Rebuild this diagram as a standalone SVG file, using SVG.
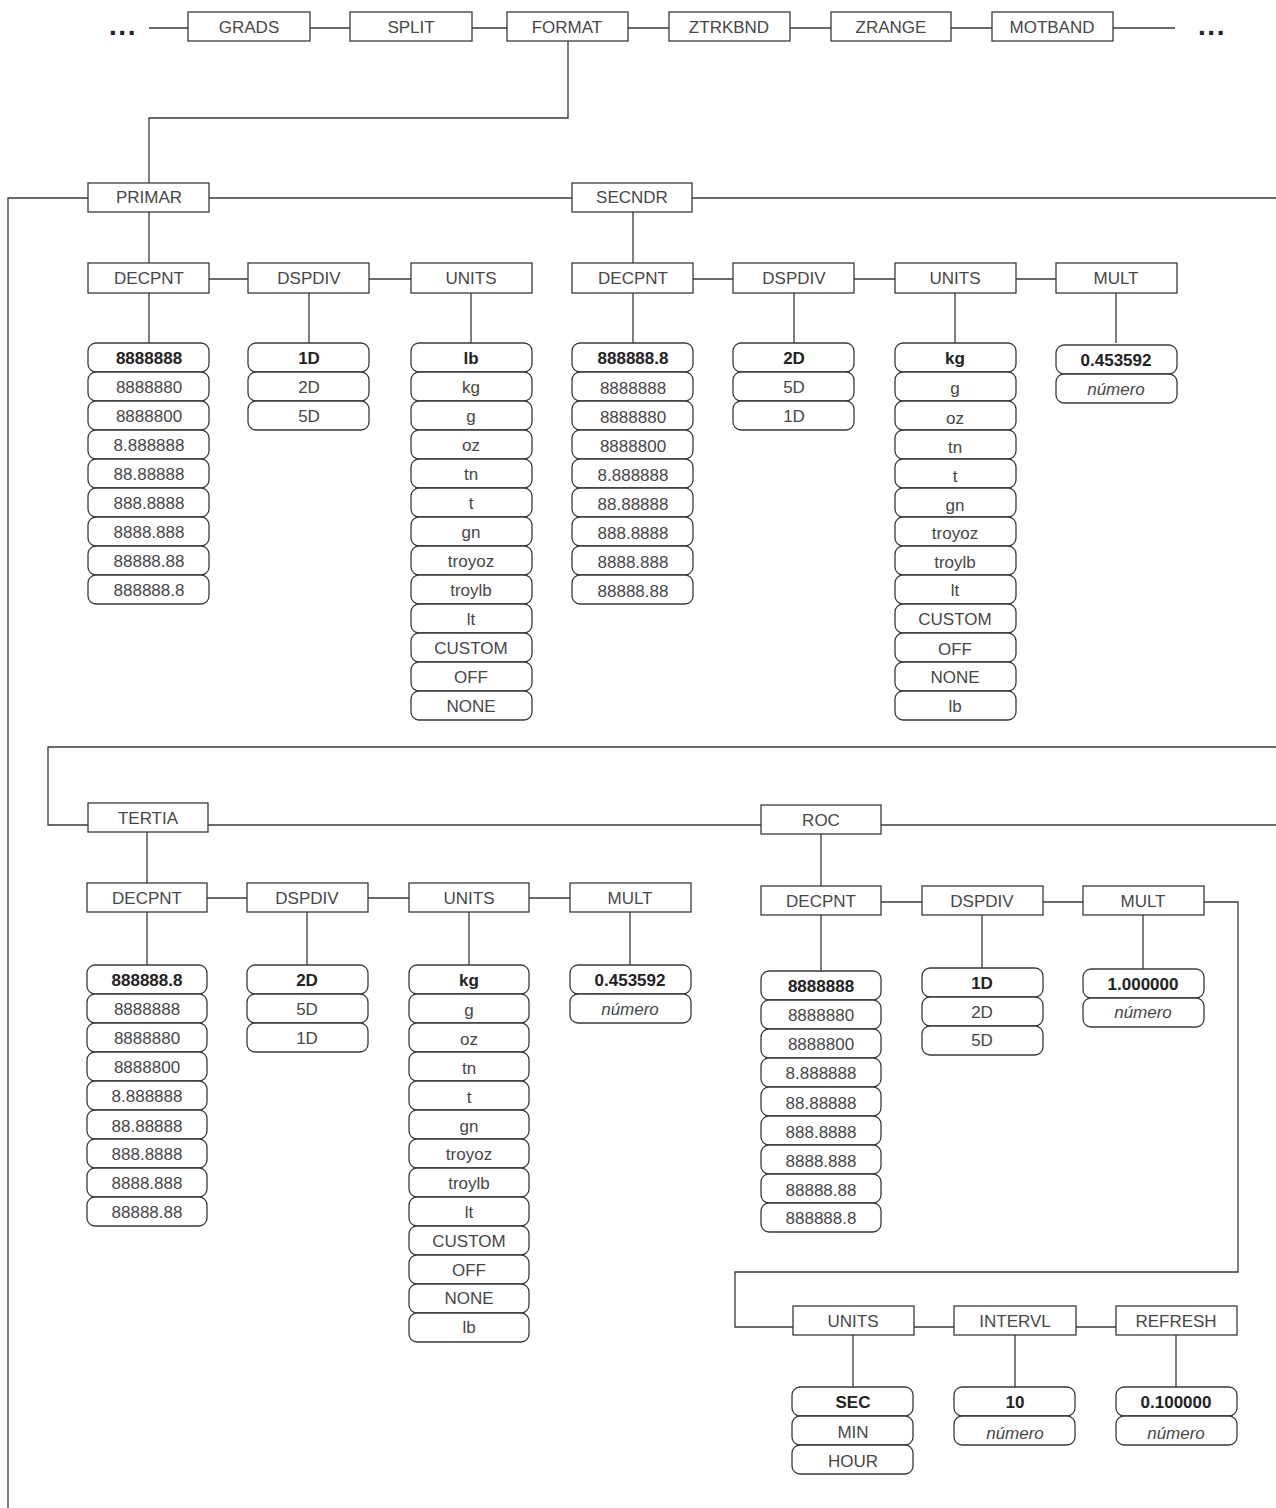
<svg xmlns="http://www.w3.org/2000/svg" width="1276" height="1508" viewBox="0 0 1276 1508">
<style>
.bx{fill:#fff;stroke:#3a3a3a;stroke-width:1.3}
.pl{fill:#fff;stroke:#3a3a3a;stroke-width:1.3}
.ln{fill:none;stroke:#3a3a3a;stroke-width:1.3}
text{font-family:"Liberation Sans",Arial,sans-serif;font-size:17px;fill:#474747;text-anchor:middle;dominant-baseline:central}
.b{font-weight:bold;fill:#222}
.i{font-style:italic}
.d{font-weight:bold;font-size:28px;fill:#222;letter-spacing:1.5px}
</style>
<rect width="1276" height="1508" fill="#fff"/>
<g id="connectors">
<path class="ln" d="M149 28H188M310 28H350M472 28H507M628 28H669M790 28H831M951 28H992M1113 28H1175"/>
<path class="ln" d="M568 41V118H149V183"/>
<path class="ln" d="M8 1508V198H88M209 198H572M692 198H1276"/>
<path class="ln" d="M149 212V263M209 279H248M369 279H411M149 293V343M309 293V343M471 293V343"/>
<path class="ln" d="M633 212V263M693 279H733M854 279H895M1016 279H1056M633 293V343M794 293V343M955 293V343M1116 293V343"/>
<path class="ln" d="M1276 747H48V825H88M208 825H761M881 825H1276"/>
<path class="ln" d="M147 832V883M207 898H247M368 898H409M529 898H570M147 912V965M307 912V965M469 912V965M630 912V965"/>
<path class="ln" d="M821 834V886M881 902H922M1043 902H1083M1204 902H1238V1272H735V1327H793M821 915V971M982 915V968M1143 915V969"/>
<path class="ln" d="M914 1327H954M1076 1327H1116M853 1335V1387M1015 1335V1387M1176 1335V1387"/>
</g>
<g id="dots-left"><text class="d" x="123" y="25">...</text></g>
<g id="dots-right"><text class="d" x="1212" y="25">...</text></g>
<g id="grads"><rect class="bx" x="188" y="12" width="122" height="29"/><text x="249" y="27">GRADS</text></g>
<g id="split"><rect class="bx" x="350" y="12" width="122" height="29"/><text x="411" y="27">SPLIT</text></g>
<g id="format"><rect class="bx" x="507" y="12" width="121" height="29"/><text x="567" y="27">FORMAT</text></g>
<g id="ztrkbnd"><rect class="bx" x="669" y="12" width="121" height="29"/><text x="729" y="27">ZTRKBND</text></g>
<g id="zrange"><rect class="bx" x="831" y="12" width="120" height="29"/><text x="891" y="27">ZRANGE</text></g>
<g id="motband"><rect class="bx" x="992" y="12" width="121" height="29"/><text x="1052" y="27">MOTBAND</text></g>

<g id="primar"><rect class="bx" x="88" y="183" width="121" height="29"/><text x="149" y="197">PRIMAR</text></g>
<g id="secndr"><rect class="bx" x="572" y="183" width="120" height="29"/><text x="632" y="197">SECNDR</text></g>

<g id="p-decpnt"><rect class="bx" x="88" y="263" width="121" height="30"/><text x="149" y="278">DECPNT</text></g>
<g id="p-dspdiv"><rect class="bx" x="248" y="263" width="121" height="30"/><text x="309" y="278">DSPDIV</text></g>
<g id="p-units"><rect class="bx" x="411" y="263" width="121" height="30"/><text x="471" y="278">UNITS</text></g>

<g id="p-decpnt-values">
<g id="p-dp-1"><rect class="pl" x="88" y="343" width="121" height="29" rx="8"/><text class="b" x="149" y="358">8888888</text></g>
<g id="p-dp-2"><rect class="pl" x="88" y="372" width="121" height="29" rx="8"/><text x="149" y="387">8888880</text></g>
<g id="p-dp-3"><rect class="pl" x="88" y="401" width="121" height="29" rx="8"/><text x="149" y="416">8888800</text></g>
<g id="p-dp-4"><rect class="pl" x="88" y="430" width="121" height="29" rx="8"/><text x="149" y="445">8.888888</text></g>
<g id="p-dp-5"><rect class="pl" x="88" y="459" width="121" height="29" rx="8"/><text x="149" y="474">88.88888</text></g>
<g id="p-dp-6"><rect class="pl" x="88" y="488" width="121" height="29" rx="8"/><text x="149" y="503">888.8888</text></g>
<g id="p-dp-7"><rect class="pl" x="88" y="517" width="121" height="29" rx="8"/><text x="149" y="532">8888.888</text></g>
<g id="p-dp-8"><rect class="pl" x="88" y="546" width="121" height="29" rx="8"/><text x="149" y="561">88888.88</text></g>
<g id="p-dp-9"><rect class="pl" x="88" y="575" width="121" height="29" rx="8"/><text x="149" y="590">888888.8</text></g>
</g>
<g id="p-dspdiv-values">
<g id="p-dd-1"><rect class="pl" x="248" y="343" width="121" height="29" rx="8"/><text class="b" x="309" y="358">1D</text></g>
<g id="p-dd-2"><rect class="pl" x="248" y="372" width="121" height="29" rx="8"/><text x="309" y="387">2D</text></g>
<g id="p-dd-3"><rect class="pl" x="248" y="401" width="121" height="29" rx="8"/><text x="309" y="416">5D</text></g>
</g>
<g id="p-units-values">
<g id="p-u-1"><rect class="pl" x="411" y="343" width="121" height="29" rx="8"/><text class="b" x="471" y="358">lb</text></g>
<g id="p-u-2"><rect class="pl" x="411" y="372" width="121" height="29" rx="8"/><text x="471" y="387">kg</text></g>
<g id="p-u-3"><rect class="pl" x="411" y="401" width="121" height="29" rx="8"/><text x="471" y="416">g</text></g>
<g id="p-u-4"><rect class="pl" x="411" y="430" width="121" height="29" rx="8"/><text x="471" y="445">oz</text></g>
<g id="p-u-5"><rect class="pl" x="411" y="459" width="121" height="29" rx="8"/><text x="471" y="474">tn</text></g>
<g id="p-u-6"><rect class="pl" x="411" y="488" width="121" height="29" rx="8"/><text x="471" y="503">t</text></g>
<g id="p-u-7"><rect class="pl" x="411" y="517" width="121" height="29" rx="8"/><text x="471" y="532">gn</text></g>
<g id="p-u-8"><rect class="pl" x="411" y="546" width="121" height="29" rx="8"/><text x="471" y="561">troyoz</text></g>
<g id="p-u-9"><rect class="pl" x="411" y="575" width="121" height="29" rx="8"/><text x="471" y="590">troylb</text></g>
<g id="p-u-10"><rect class="pl" x="411" y="604" width="121" height="29" rx="8"/><text x="471" y="619">lt</text></g>
<g id="p-u-11"><rect class="pl" x="411" y="633" width="121" height="29" rx="8"/><text x="471" y="648">CUSTOM</text></g>
<g id="p-u-12"><rect class="pl" x="411" y="662" width="121" height="29" rx="8"/><text x="471" y="677">OFF</text></g>
<g id="p-u-13"><rect class="pl" x="411" y="691" width="121" height="29" rx="8"/><text x="471" y="706">NONE</text></g>
</g>

<g id="s-decpnt"><rect class="bx" x="572" y="263" width="121" height="30"/><text x="633" y="278">DECPNT</text></g>
<g id="s-dspdiv"><rect class="bx" x="733" y="263" width="121" height="30"/><text x="794" y="278">DSPDIV</text></g>
<g id="s-units"><rect class="bx" x="895" y="263" width="121" height="30"/><text x="955" y="278">UNITS</text></g>
<g id="s-mult"><rect class="bx" x="1056" y="263" width="121" height="30"/><text x="1116" y="278">MULT</text></g>

<g id="s-decpnt-values">
<g id="s-dp-1"><rect class="pl" x="572" y="343" width="121" height="29" rx="8"/><text class="b" x="633" y="358">888888.8</text></g>
<g id="s-dp-2"><rect class="pl" x="572" y="372" width="121" height="29" rx="8"/><text x="633" y="388">8888888</text></g>
<g id="s-dp-3"><rect class="pl" x="572" y="401" width="121" height="29" rx="8"/><text x="633" y="417">8888880</text></g>
<g id="s-dp-4"><rect class="pl" x="572" y="430" width="121" height="29" rx="8"/><text x="633" y="446">8888800</text></g>
<g id="s-dp-5"><rect class="pl" x="572" y="459" width="121" height="29" rx="8"/><text x="633" y="475">8.888888</text></g>
<g id="s-dp-6"><rect class="pl" x="572" y="488" width="121" height="29" rx="8"/><text x="633" y="504">88.88888</text></g>
<g id="s-dp-7"><rect class="pl" x="572" y="517" width="121" height="29" rx="8"/><text x="633" y="533">888.8888</text></g>
<g id="s-dp-8"><rect class="pl" x="572" y="546" width="121" height="29" rx="8"/><text x="633" y="562">8888.888</text></g>
<g id="s-dp-9"><rect class="pl" x="572" y="575" width="121" height="29" rx="8"/><text x="633" y="591">88888.88</text></g>
</g>
<g id="s-dspdiv-values">
<g id="s-dd-1"><rect class="pl" x="733" y="343" width="121" height="29" rx="8"/><text class="b" x="794" y="358">2D</text></g>
<g id="s-dd-2"><rect class="pl" x="733" y="372" width="121" height="29" rx="8"/><text x="794" y="387">5D</text></g>
<g id="s-dd-3"><rect class="pl" x="733" y="401" width="121" height="29" rx="8"/><text x="794" y="416">1D</text></g>
</g>
<g id="s-units-values">
<g id="s-u-1"><rect class="pl" x="895" y="343" width="121" height="29" rx="8"/><text class="b" x="955" y="358">kg</text></g>
<g id="s-u-2"><rect class="pl" x="895" y="372" width="121" height="29" rx="8"/><text x="955" y="388">g</text></g>
<g id="s-u-3"><rect class="pl" x="895" y="401" width="121" height="29" rx="8"/><text x="955" y="418">oz</text></g>
<g id="s-u-4"><rect class="pl" x="895" y="430" width="121" height="29" rx="8"/><text x="955" y="447">tn</text></g>
<g id="s-u-5"><rect class="pl" x="895" y="459" width="121" height="29" rx="8"/><text x="955" y="476">t</text></g>
<g id="s-u-6"><rect class="pl" x="895" y="488" width="121" height="29" rx="8"/><text x="955" y="505">gn</text></g>
<g id="s-u-7"><rect class="pl" x="895" y="517" width="121" height="29" rx="8"/><text x="955" y="533">troyoz</text></g>
<g id="s-u-8"><rect class="pl" x="895" y="546" width="121" height="29" rx="8"/><text x="955" y="562">troylb</text></g>
<g id="s-u-9"><rect class="pl" x="895" y="575" width="121" height="29" rx="8"/><text x="955" y="590">lt</text></g>
<g id="s-u-10"><rect class="pl" x="895" y="604" width="121" height="29" rx="8"/><text x="955" y="619">CUSTOM</text></g>
<g id="s-u-11"><rect class="pl" x="895" y="633" width="121" height="29" rx="8"/><text x="955" y="649">OFF</text></g>
<g id="s-u-12"><rect class="pl" x="895" y="662" width="121" height="29" rx="8"/><text x="955" y="677">NONE</text></g>
<g id="s-u-13"><rect class="pl" x="895" y="691" width="121" height="29" rx="8"/><text x="955" y="706">lb</text></g>
</g>
<g id="s-mult-values">
<g id="s-m-1"><rect class="pl" x="1056" y="345" width="121" height="29" rx="8"/><text class="b" x="1116" y="360">0.453592</text></g>
<g id="s-m-2"><rect class="pl" x="1056" y="374" width="121" height="29" rx="8"/><text class="i" x="1116" y="389">número</text></g>
</g>

<g id="tertia"><rect class="bx" x="88" y="803" width="120" height="29"/><text x="148" y="818">TERTIA</text></g>
<g id="roc"><rect class="bx" x="761" y="805" width="120" height="29"/><text x="821" y="820">ROC</text></g>

<g id="t-decpnt"><rect class="bx" x="87" y="883" width="120" height="29"/><text x="147" y="898">DECPNT</text></g>
<g id="t-dspdiv"><rect class="bx" x="247" y="883" width="121" height="29"/><text x="307" y="898">DSPDIV</text></g>
<g id="t-units"><rect class="bx" x="409" y="883" width="120" height="29"/><text x="469" y="898">UNITS</text></g>
<g id="t-mult"><rect class="bx" x="570" y="883" width="121" height="29"/><text x="630" y="898">MULT</text></g>

<g id="t-decpnt-values">
<g id="t-dp-1"><rect class="pl" x="87" y="965" width="120" height="29" rx="8"/><text class="b" x="147" y="980">888888.8</text></g>
<g id="t-dp-2"><rect class="pl" x="87" y="994" width="120" height="29" rx="8"/><text x="147" y="1009">8888888</text></g>
<g id="t-dp-3"><rect class="pl" x="87" y="1023" width="120" height="29" rx="8"/><text x="147" y="1038">8888880</text></g>
<g id="t-dp-4"><rect class="pl" x="87" y="1052" width="120" height="29" rx="8"/><text x="147" y="1067">8888800</text></g>
<g id="t-dp-5"><rect class="pl" x="87" y="1081" width="120" height="29" rx="8"/><text x="147" y="1096">8.888888</text></g>
<g id="t-dp-6"><rect class="pl" x="87" y="1110" width="120" height="29" rx="8"/><text x="147" y="1126">88.88888</text></g>
<g id="t-dp-7"><rect class="pl" x="87" y="1139" width="120" height="29" rx="8"/><text x="147" y="1154">888.8888</text></g>
<g id="t-dp-8"><rect class="pl" x="87" y="1168" width="120" height="29" rx="8"/><text x="147" y="1183">8888.888</text></g>
<g id="t-dp-9"><rect class="pl" x="87" y="1197" width="120" height="29" rx="8"/><text x="147" y="1212">88888.88</text></g>
</g>
<g id="t-dspdiv-values">
<g id="t-dd-1"><rect class="pl" x="247" y="965" width="121" height="29" rx="8"/><text class="b" x="307" y="980">2D</text></g>
<g id="t-dd-2"><rect class="pl" x="247" y="994" width="121" height="29" rx="8"/><text x="307" y="1009">5D</text></g>
<g id="t-dd-3"><rect class="pl" x="247" y="1023" width="121" height="29" rx="8"/><text x="307" y="1038">1D</text></g>
</g>
<g id="t-units-values">
<g id="t-u-1"><rect class="pl" x="409" y="965" width="120" height="29" rx="8"/><text class="b" x="469" y="980">kg</text></g>
<g id="t-u-2"><rect class="pl" x="409" y="994" width="120" height="29" rx="8"/><text x="469" y="1010">g</text></g>
<g id="t-u-3"><rect class="pl" x="409" y="1023" width="120" height="29" rx="8"/><text x="469" y="1039">oz</text></g>
<g id="t-u-4"><rect class="pl" x="409" y="1052" width="120" height="29" rx="8"/><text x="469" y="1068">tn</text></g>
<g id="t-u-5"><rect class="pl" x="409" y="1081" width="120" height="29" rx="8"/><text x="469" y="1097">t</text></g>
<g id="t-u-6"><rect class="pl" x="409" y="1110" width="120" height="29" rx="8"/><text x="469" y="1126">gn</text></g>
<g id="t-u-7"><rect class="pl" x="409" y="1139" width="120" height="29" rx="8"/><text x="469" y="1154">troyoz</text></g>
<g id="t-u-8"><rect class="pl" x="409" y="1168" width="120" height="29" rx="8"/><text x="469" y="1183">troylb</text></g>
<g id="t-u-9"><rect class="pl" x="409" y="1197" width="120" height="29" rx="8"/><text x="469" y="1212">lt</text></g>
<g id="t-u-10"><rect class="pl" x="409" y="1226" width="120" height="29" rx="8"/><text x="469" y="1241">CUSTOM</text></g>
<g id="t-u-11"><rect class="pl" x="409" y="1255" width="120" height="29" rx="8"/><text x="469" y="1270">OFF</text></g>
<g id="t-u-12"><rect class="pl" x="409" y="1284" width="120" height="29" rx="8"/><text x="469" y="1298">NONE</text></g>
<g id="t-u-13"><rect class="pl" x="409" y="1313" width="120" height="29" rx="8"/><text x="469" y="1327">lb</text></g>
</g>
<g id="t-mult-values">
<g id="t-m-1"><rect class="pl" x="570" y="965" width="121" height="29" rx="8"/><text class="b" x="630" y="980">0.453592</text></g>
<g id="t-m-2"><rect class="pl" x="570" y="994" width="121" height="29" rx="8"/><text class="i" x="630" y="1009">número</text></g>
</g>

<g id="r-decpnt"><rect class="bx" x="761" y="886" width="120" height="29"/><text x="821" y="901">DECPNT</text></g>
<g id="r-dspdiv"><rect class="bx" x="922" y="886" width="121" height="29"/><text x="982" y="901">DSPDIV</text></g>
<g id="r-mult"><rect class="bx" x="1083" y="886" width="121" height="29"/><text x="1143" y="901">MULT</text></g>

<g id="r-decpnt-values">
<g id="r-dp-1"><rect class="pl" x="761" y="971" width="120" height="29" rx="8"/><text class="b" x="821" y="986">8888888</text></g>
<g id="r-dp-2"><rect class="pl" x="761" y="1000" width="120" height="29" rx="8"/><text x="821" y="1015">8888880</text></g>
<g id="r-dp-3"><rect class="pl" x="761" y="1029" width="120" height="29" rx="8"/><text x="821" y="1044">8888800</text></g>
<g id="r-dp-4"><rect class="pl" x="761" y="1058" width="120" height="29" rx="8"/><text x="821" y="1073">8.888888</text></g>
<g id="r-dp-5"><rect class="pl" x="761" y="1087" width="120" height="29" rx="8"/><text x="821" y="1103">88.88888</text></g>
<g id="r-dp-6"><rect class="pl" x="761" y="1116" width="120" height="29" rx="8"/><text x="821" y="1132">888.8888</text></g>
<g id="r-dp-7"><rect class="pl" x="761" y="1145" width="120" height="29" rx="8"/><text x="821" y="1161">8888.888</text></g>
<g id="r-dp-8"><rect class="pl" x="761" y="1174" width="120" height="29" rx="8"/><text x="821" y="1190">88888.88</text></g>
<g id="r-dp-9"><rect class="pl" x="761" y="1203" width="120" height="29" rx="8"/><text x="821" y="1218">888888.8</text></g>
</g>
<g id="r-dspdiv-values">
<g id="r-dd-1"><rect class="pl" x="922" y="968" width="121" height="29" rx="8"/><text class="b" x="982" y="983">1D</text></g>
<g id="r-dd-2"><rect class="pl" x="922" y="997" width="121" height="29" rx="8"/><text x="982" y="1012">2D</text></g>
<g id="r-dd-3"><rect class="pl" x="922" y="1026" width="121" height="29" rx="8"/><text x="982" y="1040">5D</text></g>
</g>
<g id="r-mult-values">
<g id="r-m-1"><rect class="pl" x="1083" y="969" width="121" height="29" rx="8"/><text class="b" x="1143" y="984">1.000000</text></g>
<g id="r-m-2"><rect class="pl" x="1083" y="998" width="121" height="29" rx="8"/><text class="i" x="1143" y="1012">número</text></g>
</g>

<g id="r-units"><rect class="bx" x="793" y="1306" width="121" height="29"/><text x="853" y="1321">UNITS</text></g>
<g id="r-intervl"><rect class="bx" x="954" y="1306" width="122" height="29"/><text x="1015" y="1321">INTERVL</text></g>
<g id="r-refresh"><rect class="bx" x="1116" y="1306" width="121" height="29"/><text x="1176" y="1321">REFRESH</text></g>

<g id="r-units-values">
<g id="r-u-1"><rect class="pl" x="792" y="1387" width="121" height="29" rx="8"/><text class="b" x="853" y="1402">SEC</text></g>
<g id="r-u-2"><rect class="pl" x="792" y="1416" width="121" height="29" rx="8"/><text x="853" y="1432">MIN</text></g>
<g id="r-u-3"><rect class="pl" x="792" y="1445" width="121" height="29" rx="8"/><text x="853" y="1461">HOUR</text></g>
</g>
<g id="r-intervl-values">
<g id="r-i-1"><rect class="pl" x="954" y="1387" width="121" height="29" rx="8"/><text class="b" x="1015" y="1402">10</text></g>
<g id="r-i-2"><rect class="pl" x="954" y="1416" width="121" height="29" rx="8"/><text class="i" x="1015" y="1433">número</text></g>
</g>
<g id="r-refresh-values">
<g id="r-r-1"><rect class="pl" x="1116" y="1387" width="121" height="29" rx="8"/><text class="b" x="1176" y="1402">0.100000</text></g>
<g id="r-r-2"><rect class="pl" x="1116" y="1416" width="121" height="29" rx="8"/><text class="i" x="1176" y="1433">número</text></g>
</g>
</svg>
